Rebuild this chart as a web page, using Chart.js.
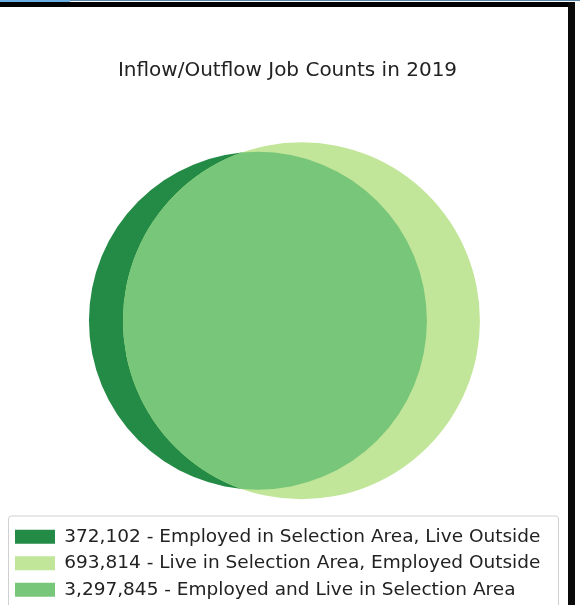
<!DOCTYPE html>
<html>
<head>
<meta charset="utf-8">
<script src="https://cdn.jsdelivr.net/npm/chart.js@4"></script>
<style>
  html, body { margin: 0; padding: 0; background: #fff; }
  #wrap { position: relative; width: 580px; height: 605px; overflow: hidden; }
  #chart { position: absolute; left: 0; top: 0; }
  .edge { position: absolute; pointer-events: none; }
</style>
</head>
<body>
<div id="wrap">
  <canvas id="chart" width="580" height="605"></canvas>
  <div class="edge" style="left:0;top:0;width:580px;height:1px;background:#5b86a8"></div>
  <div class="edge" style="left:0;top:0;width:70px;height:2px;background:#6aaee2"></div>
  <div class="edge" style="left:0;top:2px;width:575px;height:5px;background:#000"></div>
  <div class="edge" style="left:568px;top:2px;width:7px;height:603px;background:#0a0a0a"></div>
</div>
<script>
const title = "Inflow/Outflow Job Counts in 2019";
const groups = ["Employed in Selection Area, Live Outside", "Live in Selection Area, Employed Outside", "Employed and Live in Selection Area"];
const counts = [372102, 693814, 3297845];
const colors = ["#238b45", "#c2e699", "#78c679"];
// circle geometry (venn units): left = employed here, right = live here
const centerX = [-0.064, 0.064, -0.064];
const centerY = [0, 0, 0];
const radii = [0.497, 0.525, 0.497];

// middle region = left circle clipped to the right circle
const lensClip = {
  id: "lensClip",
  beforeDatasetDraw(chart, args) {
    if (args.index !== 2) return;
    const el = chart.getDatasetMeta(1).data[0];
    const ctx = chart.ctx;
    ctx.save();
    ctx.beginPath();
    ctx.arc(el.x, el.y, el.options.radius, 0, Math.PI * 2);
    ctx.clip();
  },
  afterDatasetDraw(chart, args) {
    if (args.index === 2) chart.ctx.restore();
  },
};

const legendFrame = {
  id: "legendFrame",
  afterDraw(chart) {
    const lg = chart.legend;
    const ctx = chart.ctx;
    ctx.save();
    ctx.strokeStyle = "#d0d0d0";
    ctx.lineWidth = 1;
    ctx.beginPath();
    ctx.roundRect(8.5, lg.top - 3.5, 550, 130, 3);
    ctx.stroke();
    ctx.restore();
  },
};

const chart = new Chart(document.getElementById("chart"), {
  type: "bubble",
  data: {
    datasets: groups.map((g, i) => ({
      label: counts[i].toLocaleString("en-US") + " - " + g,
      data: [{ x: centerX[i], y: centerY[i] }],
      backgroundColor: colors[i],
      borderWidth: 0,
      hoverRadius: 0,
      clip: false,
      order: 3 - i,
    })),
  },
  options: {
    responsive: false,
    animation: false,
    events: [],
    layout: { autoPadding: false, padding: { left: 7, right: 12, top: 0, bottom: -4 } },
    scales: {
      x: { display: false, min: -0.802, max: 0.848 },
      y: { display: false, min: -1, max: 1 },
    },
    plugins: {
      tooltip: { enabled: false },
      title: {
        display: true,
        text: title,
        color: "#222",
        font: { family: "DejaVu Sans", size: 20, weight: "normal" },
        padding: { top: 58.5, bottom: 39.5 },
      },
      legend: {
        position: "bottom",
        align: "start",
        labels: {
          color: "#222",
          font: { family: "DejaVu Sans", size: 18.5 },
          boxWidth: 40,
          boxHeight: 14,
          padding: 8,
          sort: (a, b) => a.datasetIndex - b.datasetIndex,
        },
      },
    },
  },
  plugins: [lensClip, legendFrame],
});

// bubble radius is in pixels: size each circle off the x scale
const sx = chart.scales.x;
chart.data.datasets.forEach((d, i) => {
  d.data[0].r = Math.abs(sx.getPixelForValue(radii[i]) - sx.getPixelForValue(0));
});
chart.update();
</script>
</body>
</html>
